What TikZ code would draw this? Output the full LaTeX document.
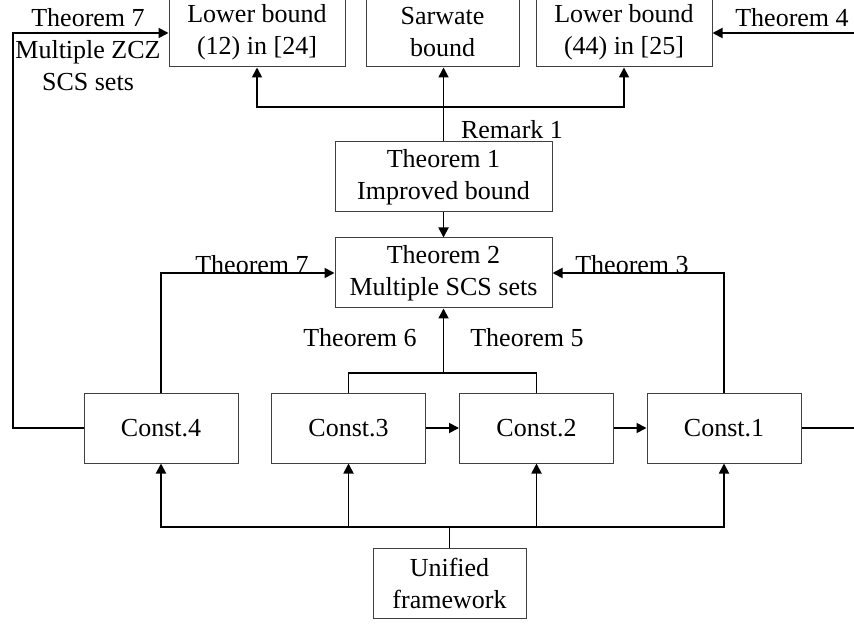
\documentclass[tikz,border=0pt]{standalone}
\usepackage{fontspec}
\setmainfont{Liberation Serif}
\usetikzlibrary{arrows.meta}

\tikzstyle{caja}= [rectangle,draw=black!75,line width=0.5pt,inner sep=0pt,align=center,minimum height=35pt]
\tikzstyle{flecha}= [black,line width=0.9pt,-{Triangle[length=5pt,width=5pt]}]
\tikzstyle{linea}= [black,line width=0.9pt]
\tikzstyle{etiq}= [inner sep=0pt,align=center]

\begin{document}
\begin{tikzpicture}[x=0.5pt,y=-0.5pt,font=\fontsize{13}{16}\selectfont]

		\useasboundingbox (0,0) rectangle (854,624);

		\node (a) at (257,32.5) [caja,minimum width=88pt,minimum height=34.5pt] {Lower bound\\(12) in [24]};
		\node (b) at (442.5,32.5) [caja,minimum width=76.5pt,minimum height=34.5pt] {Sarwate\\bound};
		\node (c) at (624,32.5) [caja,minimum width=88pt,minimum height=34.5pt] {Lower bound\\(44) in [25]};

		\node (d) at (443.5,177) [caja,minimum width=108.5pt] {Theorem 1\\Improved bound};
		\node (e) at (443.5,273) [caja,minimum width=108.5pt] {Theorem 2\\Multiple SCS sets};

		\node (f) at (161,428) [caja,minimum width=77pt] {Const.4};
		\node (g) at (348.5,428) [caja,minimum width=77pt] {Const.3};
		\node (h) at (536.5,428) [caja,minimum width=77pt] {Const.2};
		\node (i) at (724,428) [caja,minimum width=77pt] {Const.1};

		\node (j) at (449.5,583) [caja,minimum width=76.5pt] {Unified\\framework};

		\node (t7a) at (88,50) [etiq] {Theorem 7\\Multiple ZCZ\\SCS sets};
		\node (t4) at (792,18) [etiq] {Theorem 4};
		\node (r1) at (512,130) [etiq] {Remark 1};
		\node (t7b) at (252,265) [etiq] {Theorem 7};
		\node (t3) at (632,265) [etiq] {Theorem 3};
		\node (t6) at (360,338) [etiq] {Theorem 6};
		\node (t5) at (527,338) [etiq] {Theorem 5};

		\coordinate (k) at (13,33);
		\coordinate (l) at (854,33);
		\coordinate (m) at (854,428);
		\coordinate (r) at (443.5,107);
		\coordinate (n) at (443.5,373);
		\coordinate (o) at (449.5,527);

		\draw[flecha] (d.north) -- (d.north |- b.south);
		\draw[flecha] (r) -| (a.south);
		\draw[flecha] (r) -| (c.south);
		\draw[flecha] (d.south) -- (e.north);

		\draw[flecha] (f.west) -| (k) -- (k -| a.west);
		\draw[flecha] (l) -- (l -| c.east);
		\draw[linea] (i.east) -- (m);

		\draw[flecha] (f.north) |- (e.west);
		\draw[flecha] (i.north) |- (e.east);
		\draw[linea] (g.north) |- (n) -| (h.north);
		\draw[flecha] (n) -- (e.south);

		\draw[flecha] (g.east) -- (h.west);
		\draw[flecha] (h.east) -- (i.west);

		\draw[linea] (j.north) -- (o);
		\draw[flecha] (o) -| (f.south);
		\draw[flecha] (o) -| (g.south);
		\draw[flecha] (o) -| (h.south);
		\draw[flecha] (o) -| (i.south);

	\end{tikzpicture}
\end{document}
